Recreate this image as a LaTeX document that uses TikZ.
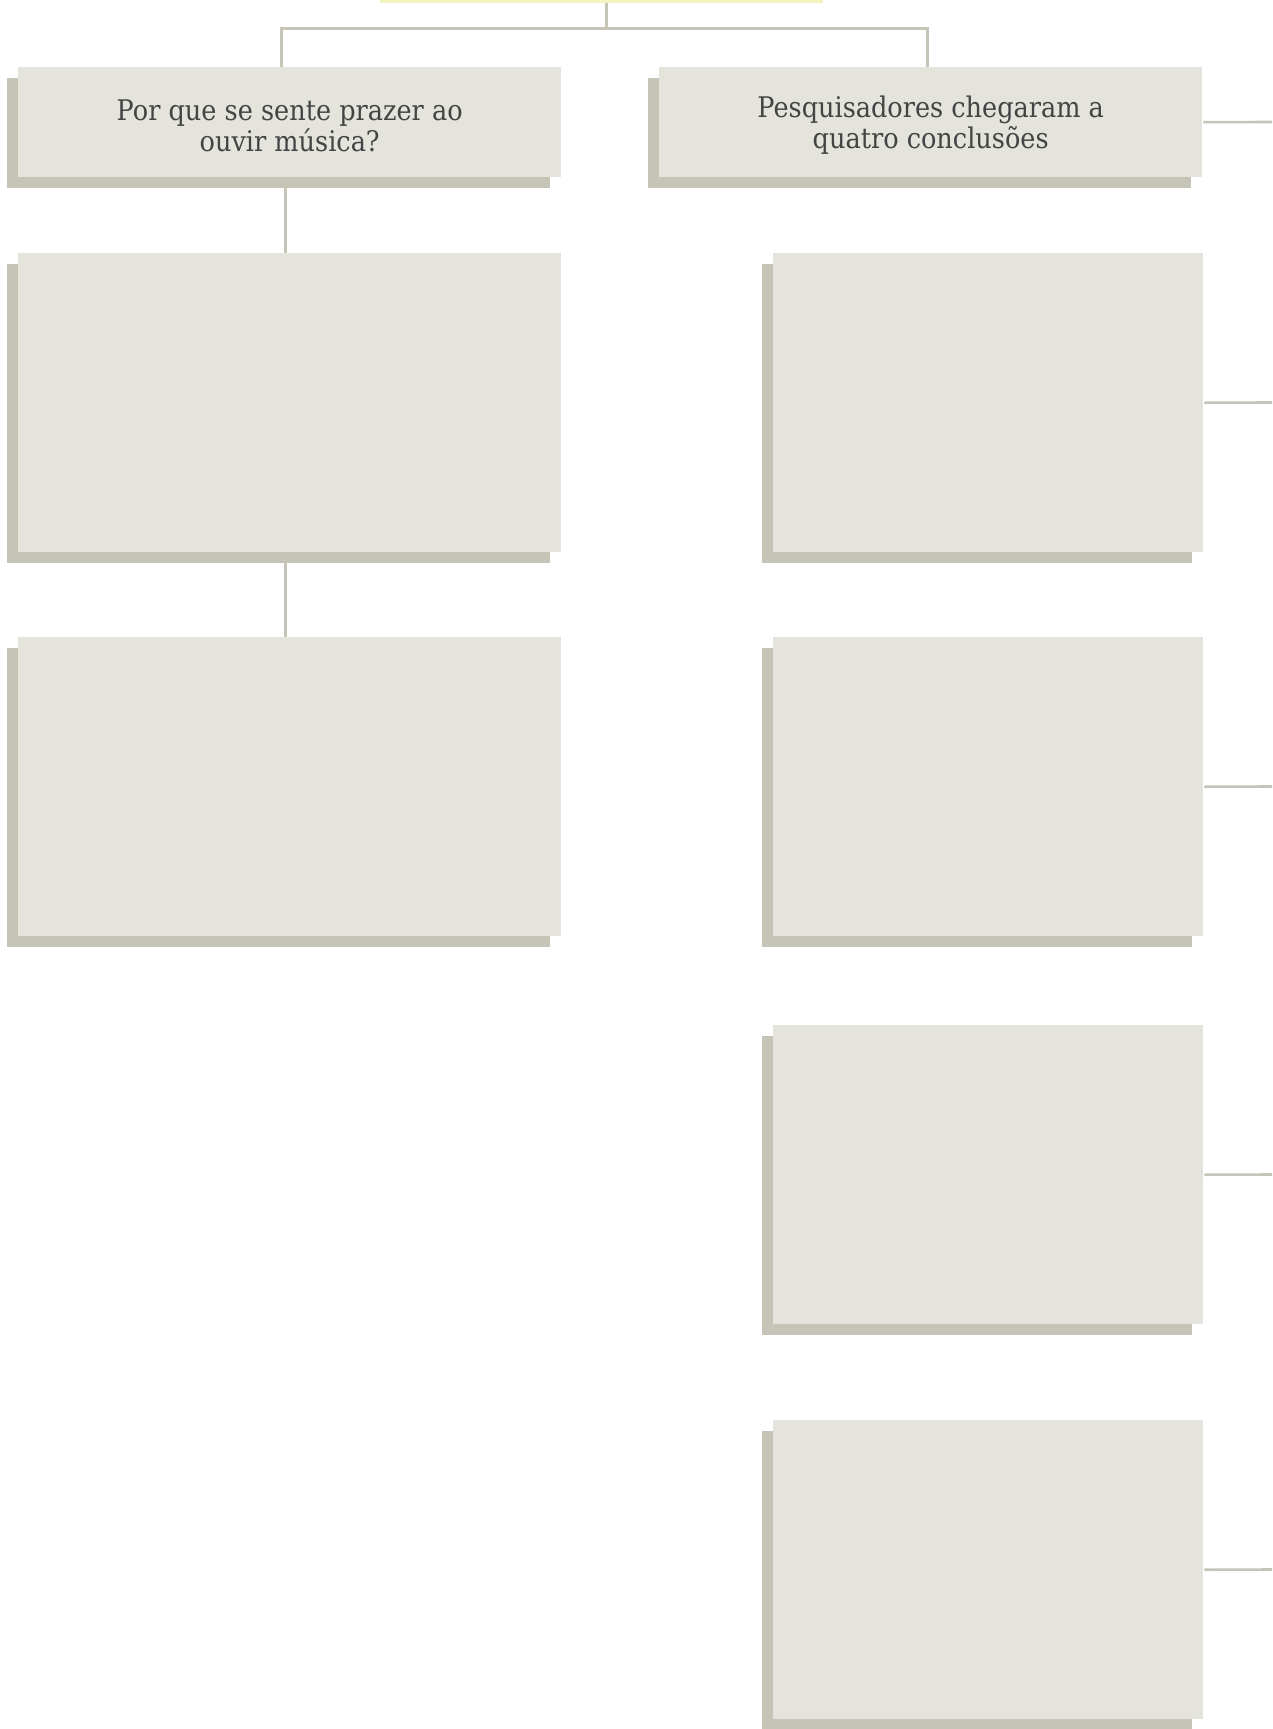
\documentclass[tikz,border=0pt]{standalone}
\usepackage{fontspec}
\setmainfont[FakeStretch=0.9]{DejaVu Serif}
\usetikzlibrary{shadows}
\definecolor{boxfill}{HTML}{E4E4DC}
\definecolor{shadowc}{HTML}{C6C4B6}
\definecolor{linec}{HTML}{C6C4B6}
\definecolor{topfill}{HTML}{F2F5C0}
\definecolor{textc}{HTML}{444444}
\newcommand{\upstrut}{\rule{0pt}{27pt}}
\tikzset{
  card/.style={fill=boxfill, draw=none, inner sep=0pt, anchor=north west,
    drop shadow={shadow xshift=-11pt, shadow yshift=-11pt, fill=shadowc, opacity=1},
    font=\fontsize{28.4}{31}\selectfont, text=textc, align=center},
  wide/.style={minimum width=543pt},
  narrow/.style={minimum width=430pt},
  headh/.style={minimum height=110pt},
  bodyh/.style={minimum height=299pt},
  conn/.style={draw=linec, line width=2.6pt},
}
\begin{document}
\begin{tikzpicture}[x=1pt,y=-1pt]
\useasboundingbox (0,0) rectangle (1272,1729);
\clip (0,0) rectangle (1272,1729);
% title bar (cut off at top)
\node[fill=topfill, draw=none, inner sep=0pt, minimum width=443pt, minimum height=40pt, anchor=south] (title) at (601.5,2.7) {};
% left column
\node[card, wide, headh] (L0) at (18,67) {\upstrut Por que se sente prazer ao\\ouvir música?};
\node[card, wide, bodyh] (L1) at (18,253) {};
\node[card, wide, bodyh] (L2) at (18,637) {};
% right column
\node[card, wide, headh] (R0) at (659,67) {\upstrut Pesquisadores chegaram a\\quatro conclusões};
\node[card, narrow, bodyh] (R1) at (773,253) {};
\node[card, narrow, bodyh] (R2) at (773,637) {};
\node[card, narrow, bodyh] (R3) at (773,1025) {};
\node[card, narrow, bodyh] (R4) at (773,1420) {};
% connectors
\draw[conn] ([xshift=5.2pt]title.south) -- ++(0,25.6) coordinate (hj);
\draw[conn] ([xshift=-8pt]L0.north) |- (hj) -| ([xshift=-3.4pt]R0.north);
\draw[conn] ([xshift=-4.2pt]L0.south) -- ([xshift=-4.2pt]L1.north);
\draw[conn] ([xshift=-4.2pt]L1.south) -- ([xshift=-4.2pt]L2.north);
\coordinate (e0) at (1272,122);
\coordinate (e1) at (1272,402.5);
\coordinate (e2) at (1272,786.5);
\coordinate (e3) at (1272,1174.5);
\coordinate (e4) at (1272,1569.5);
\draw[conn] ([xshift=1pt]R0.east) -- (e0);
\draw[conn] ([xshift=1pt]R1.east) -- (e1);
\draw[conn] ([xshift=1pt]R2.east) -- (e2);
\draw[conn] ([xshift=1pt]R3.east) -- (e3);
\draw[conn] ([xshift=1pt]R4.east) -- (e4);
\end{tikzpicture}
\end{document}
